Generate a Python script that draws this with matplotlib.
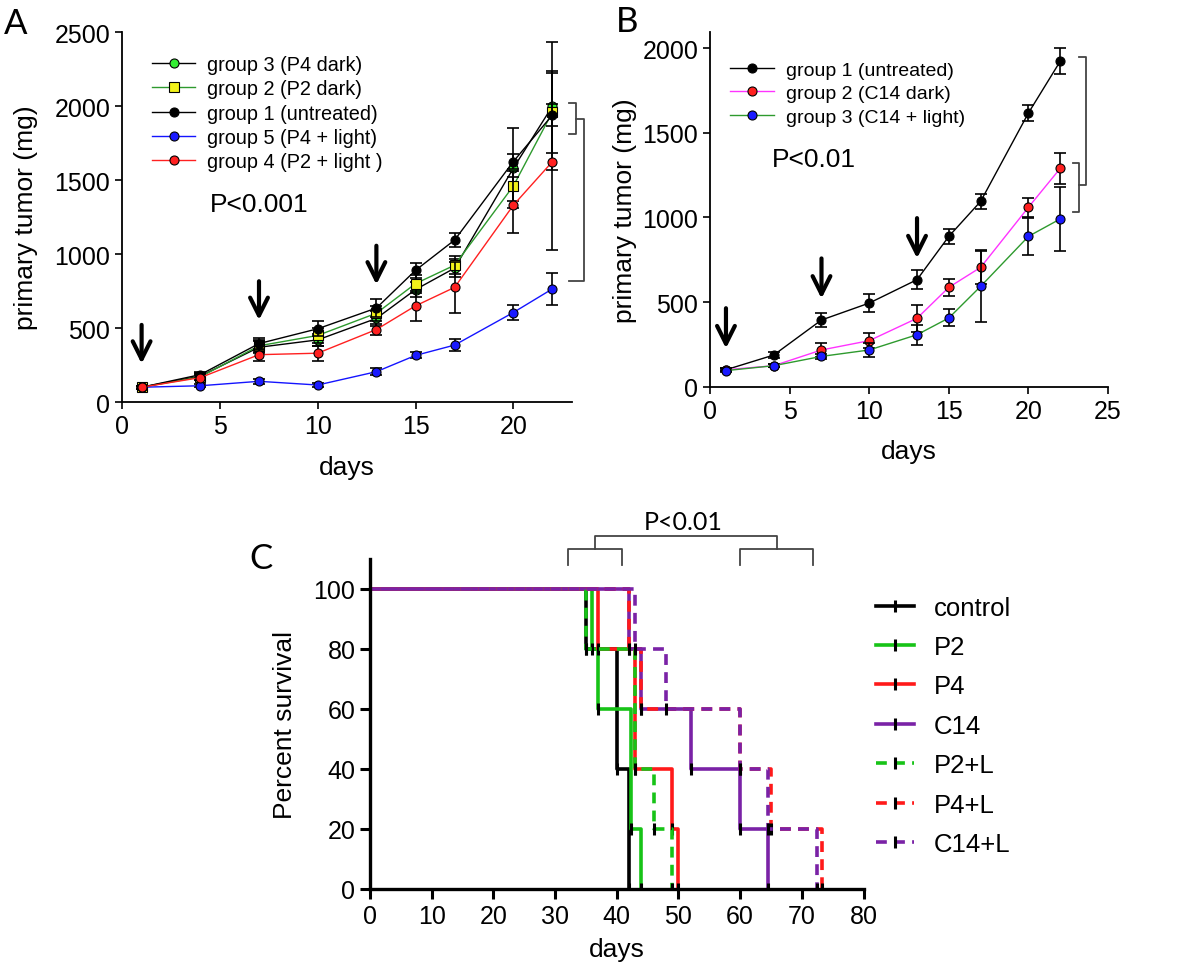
import matplotlib
matplotlib.use("Agg")
import matplotlib.pyplot as plt

plt.rcParams["font.family"] = ["Liberation Sans", "DejaVu Sans"]

# ----------------------------
# Panel A data (primary tumor, mg)
# ----------------------------
days_a = [1, 4, 7, 10, 13, 15, 17, 20, 22]
a_g3 = [100, 175, 370, 420, 565, 760, 905, 1580, 2000]
a_g3_err = [10, 20, 40, 40, 50, 50, 60, 270, 430]
a_g2 = [100, 170, 380, 450, 600, 800, 925, 1460, 1960]
a_g2_err = [10, 20, 40, 50, 50, 60, 60, 100, 280]
a_g1 = [100, 185, 395, 495, 635, 890, 1095, 1625, 1940]
a_g1_err = [10, 20, 40, 50, 60, 50, 45, 50, 75]
a_g5 = [100, 110, 140, 115, 205, 315, 385, 605, 765]
a_g5_err = [8, 10, 15, 12, 25, 20, 40, 50, 110]
a_g4 = [100, 165, 320, 330, 490, 650, 775, 1330, 1625]
a_g4_err = [10, 15, 40, 50, 40, 100, 170, 190, 600]
arrows_a = [1, 7, 13]

# ----------------------------
# Panel B data
# ----------------------------
days_b = [1, 4, 7, 10, 13, 15, 17, 20, 22]
b_g1 = [100, 187, 394, 494, 632, 888, 1095, 1617, 1923]
b_g1_err = [8, 20, 40, 55, 55, 45, 45, 45, 75]
b_g2 = [100, 124, 217, 272, 404, 587, 705, 1060, 1290]
b_g2_err = [8, 10, 40, 45, 80, 50, 100, 55, 90]
b_g3 = [95, 124, 179, 217, 307, 406, 593, 888, 991]
b_g3_err = [8, 10, 15, 40, 60, 50, 210, 110, 190]
arrows_b = [1, 7, 13]

# ----------------------------
# Panel C data (Kaplan-Meier steps)
# ----------------------------
km_names = ["control", "P2", "P4", "C14", "P2+L", "P4+L", "C14+L"]
km_times = [
    [0, 35, 40, 42],
    [0, 36, 37, 42.3, 44],
    [0, 37, 43, 49, 50],
    [0, 42, 44, 52, 60, 64.5],
    [0, 35, 43, 46, 49],
    [0, 42, 44, 60, 65, 73.3],
    [0, 43, 48, 60, 64.5, 72.5],
]
km_surv = [
    [100, 80, 40, 0],
    [100, 80, 60, 20, 0],
    [100, 80, 40, 20, 0],
    [100, 80, 60, 40, 20, 0],
    [100, 80, 40, 20, 0],
    [100, 80, 60, 40, 20, 0],
    [100, 80, 60, 40, 20, 0],
]
km_colors = ["black", "#17c317", "#ff1a1a", "#7a22a6", "#17c317", "#ff1a1a", "#7a22a6"]
km_dashed = [False, False, False, False, True, True, True]

fig = plt.figure(figsize=(12, 9.7), dpi=100)

# ----------------------------
# Panel A
# ----------------------------
axA = fig.add_axes([0.1017, 0.5845, 0.375, 0.3814])

def series(ax, x, y, err, line, face, marker, label):
    ax.errorbar(x, y, yerr=err, fmt="none", ecolor="black", elinewidth=1.2,
                capsize=4, capthick=1.2)
    h, = ax.plot(x, y, color=line, lw=1.0, marker=marker, ms=6.5, mfc=face, mec="black",
                 mew=0.8, label=label)
    return h

series(axA, days_a, a_g3, a_g3_err, "black", "#33ee33", "o", "group 3 (P4 dark)")
series(axA, days_a, a_g2, a_g2_err, "#2e9a2e", "#f2f21a", "s", "group 2 (P2 dark)")
series(axA, days_a, a_g1, a_g1_err, "black", "black", "o", "group 1 (untreated)")
series(axA, days_a, a_g5, a_g5_err, "#1414ff", "#1a1aff", "o", "group 5 (P4 + light)")
series(axA, days_a, a_g4, a_g4_err, "#ff2020", "#ff2020", "o", "group 4 (P2 + light )")

for d in arrows_a:
    idx = days_a.index(d)
    tip = a_g1[idx] + 140
    axA.annotate("", xy=(d, tip), xytext=(d, tip + 300),
                 arrowprops=dict(arrowstyle="->", lw=3, color="black", mutation_scale=32))

axA.set_xlim(0, 23)
axA.set_ylim(0, 2500)
axA.set_xticks([0, 5, 10, 15, 20])
axA.set_yticks([0, 500, 1000, 1500, 2000, 2500])
axA.set_xlabel("days", fontsize=19, labelpad=12)
axA.set_ylabel("primary tumor (mg)", fontsize=19, labelpad=12)
axA.text(7.0, 1340, "P<0.001", fontsize=19, ha="center", va="center")
axA.legend(loc="upper left", bbox_to_anchor=(0.05, 0.96), frameon=False, fontsize=14.3,
           handlelength=2.15, labelspacing=0.27, handletextpad=0.6, borderaxespad=0)

# brackets right of panel A
kw = dict(color="#444444", lw=1.3, clip_on=False)
axA.plot([22.85, 23.2, 23.2, 22.85], [2020, 2020, 1810, 1810], **kw)
axA.plot([23.2, 23.6, 23.6, 22.85], [1915, 1915, 815, 815], **kw)

# ----------------------------
# Panel B
# ----------------------------
axB = fig.add_axes([0.5917, 0.6003, 0.3317, 0.3657])
series(axB, days_b, b_g1, b_g1_err, "black", "black", "o", "group 1 (untreated)")
series(axB, days_b, b_g2, b_g2_err, "#ff33ff", "#ff2020", "o", "group 2 (C14 dark)")
series(axB, days_b, b_g3, b_g3_err, "#2e9a2e", "#1a1aff", "o", "group 3 (C14 + light)")

for d in arrows_b:
    idx = days_b.index(d)
    tip = b_g1[idx] + 110
    axB.annotate("", xy=(d, tip), xytext=(d, tip + 270),
                 arrowprops=dict(arrowstyle="->", lw=3, color="black", mutation_scale=32))

axB.set_xlim(0, 25)
axB.set_ylim(0, 2095)
axB.set_xticks([0, 5, 10, 15, 20, 25])
axB.set_yticks([0, 500, 1000, 1500, 2000])
axB.set_xlabel("days", fontsize=19, labelpad=12)
axB.set_ylabel("primary tumor (mg)", fontsize=19, labelpad=4)
axB.text(3.9, 1346, "P<0.01", fontsize=19, ha="left", va="center")
axB.legend(loc="upper left", bbox_to_anchor=(0.03, 0.94), frameon=False, fontsize=14,
           handlelength=2.3, labelspacing=0.3, handletextpad=0.6, borderaxespad=0)
axB.plot([23.2, 23.6, 23.6, 23.2], [1950, 1950, 1190, 1190], **kw)
axB.plot([22.8, 23.2, 23.2, 22.8], [1320, 1320, 1030, 1030], **kw)

for ax in (axA, axB):
    ax.spines["top"].set_visible(False)
    ax.spines["right"].set_visible(False)
    for s in ("left", "bottom"):
        ax.spines[s].set_linewidth(1.3)
    ax.tick_params(labelsize=18, length=5, width=1.2)

# ----------------------------
# Panel C
# ----------------------------
axC = fig.add_axes([0.3083, 0.0825, 0.4113, 0.3402])
handles = []
for name, t, s, c, dash in zip(km_names, km_times, km_surv, km_colors, km_dashed):
    ls = (0, (3, 2)) if dash else "-"
    axC.step(t, s, where="post", color=c, lw=2.6, linestyle=ls)
    axC.plot(t[1:], s[1:], linestyle="none", marker="|", ms=9, mew=2.2, color="black")
    h, = axC.plot([], [], color=c, lw=2.6, linestyle=ls, marker="|", ms=9, mew=2.2, mec="black")
    handles.append(h)

axC.set_xlim(0, 80)
axC.set_ylim(0, 110)
axC.set_xticks(range(0, 81, 10))
axC.set_yticks(range(0, 101, 20))
axC.spines["top"].set_visible(False)
axC.spines["right"].set_visible(False)
for s in ("left", "bottom"):
    axC.spines[s].set_linewidth(2.4)
axC.tick_params(labelsize=18, length=7, width=2.2)
axC.set_xlabel("days", fontsize=19, labelpad=7)
axC.set_ylabel("Percent survival", fontsize=19, labelpad=12)
axC.legend(handles, km_names, loc="upper left", bbox_to_anchor=(1.005, 0.92), frameon=False,
           fontsize=18.5, handlelength=1.45, labelspacing=0.6, handletextpad=0.8, borderaxespad=0)

# significance bracket above panel C
kc = dict(color="#444444", lw=1.3, clip_on=False)
axC.plot([32.1, 32.1, 40.8, 40.8], [108, 113.3, 113.3, 108], **kc)
axC.plot([60, 60, 71.8, 71.8], [108, 113.3, 113.3, 108], **kc)
axC.plot([36.4, 36.4, 65.9, 65.9], [113.3, 117.7, 117.7, 113.3], **kc)
axC.text(50.7, 122.5, "P<0.01", fontsize=18, ha="center", va="center", family=["Lato", "DejaVu Sans"])

# panel letters
fig.text(0.003, 0.992, "A", fontsize=25, va="top", family=["Lato", "DejaVu Sans"])
fig.text(0.513, 0.994, "B", fontsize=25, va="top", family=["Lato", "DejaVu Sans"])
fig.text(0.208, 0.44, "C", fontsize=25, va="top", family=["Lato", "DejaVu Sans"])

fig.savefig("out.png", dpi=100)
